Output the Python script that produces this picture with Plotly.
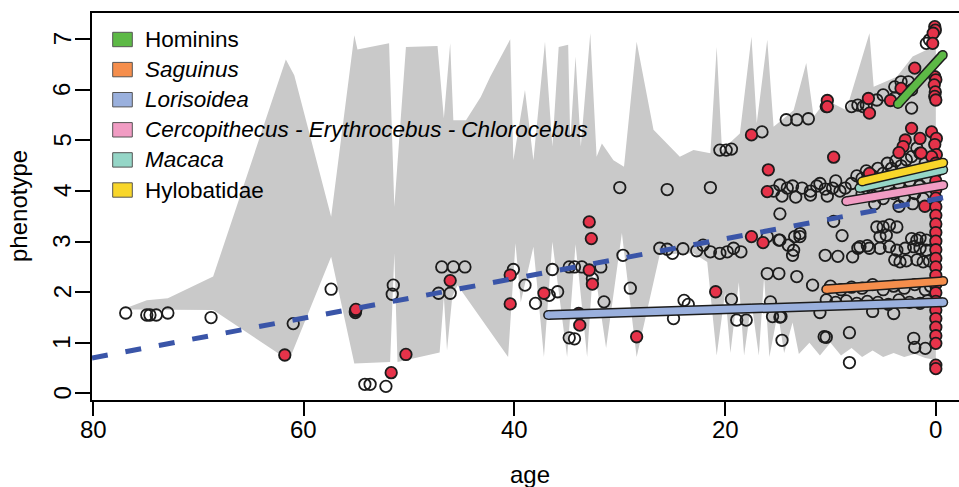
import plotly.graph_objects as go

# ---------------- data ----------------
# grey band (upper envelope, left -> right)
band_upper_age = [76.6, 74.9, 72.9, 68.6, 61.7, 60.9, 57.4, 55.2, 54.9, 51.9, 51.4, 50.3, 47.3, 46.7, 46.1,
                  45.8, 44.6, 43.2, 42.3, 41.3, 40.4, 40.1, 39.0, 38.2, 37.1, 36.4, 35.8, 34.9, 34.7, 34.2,
                  33.7, 32.8, 32.2, 31.7, 30.6, 29.6, 28.4, 26.8, 25.2, 24.3, 23.0, 21.4, 20.8, 20.3, 18.6,
                  17.5, 17.0, 16.0, 15.4, 13.5, 12.3, 11.6, 10.4, 8.5, 6.3, 5.9, 3.7, 2.2, 0.9, 0.0]
band_upper_val = [1.71, 1.84, 1.88, 2.31, 6.60, 6.29, 3.49, 7.08, 6.80, 6.92, 3.69, 6.85, 6.87, 5.44, 6.92,
                  5.40, 5.40, 5.86, 6.26, 6.66, 7.00, 4.61, 6.00, 4.61, 6.95, 4.88, 6.85, 6.89, 5.00, 6.66,
                  4.88, 7.12, 4.68, 4.94, 4.61, 4.48, 6.95, 5.21, 4.88, 4.68, 4.81, 4.75, 6.85, 4.81, 5.14,
                  7.05, 5.34, 6.99, 5.27, 5.60, 6.53, 5.47, 5.80, 5.60, 7.12, 6.06, 6.26, 6.66, 6.79, 6.85]
# grey band (lower envelope, left -> right)
band_lower_age = [76.6, 68.6, 61.4, 57.4, 55.2, 51.8, 51.4, 51.1, 50.3, 47.1, 46.7, 46.4, 45.9, 45.4, 40.6,
                  39.9, 39.4, 38.2, 37.2, 36.4, 35.0, 34.2, 33.1, 32.5, 31.3, 29.8, 28.4, 26.2, 23.0, 21.7,
                  20.8, 20.0, 19.5, 18.7, 18.2, 17.5, 16.8, 16.3, 15.8, 15.0, 14.4, 13.6, 13.0, 12.0, 11.0,
                  10.0, 9.0, 8.0, 7.0, 6.0, 5.0, 4.0, 3.0, 2.0, 1.0, 0.0]
band_lower_val = [1.66, 1.65, 0.65, 2.70, 0.59, 0.62, 2.77, 0.62, 0.66, 0.81, 1.91, 0.85, 1.91, 2.14, 0.72,
                  2.97, 1.80, 2.90, 0.72, 3.00, 0.72, 2.95, 0.72, 2.60, 0.90, 3.17, 0.72, 2.75, 2.77, 2.60,
                  0.75, 2.00, 0.80, 2.20, 0.75, 1.80, 0.75, 2.30, 0.72, 1.60, 0.80, 1.40, 0.78, 1.00, 0.75,
                  1.00, 0.75, 0.90, 0.72, 0.85, 0.72, 0.80, 0.72, 0.78, 0.70, 0.66]

# open (hollow) points
open_age = [76.9, 74.9, 74.6, 74.0, 72.9, 68.8, 61.0, 57.4, 51.5, 51.6, 54.2, 53.7, 52.2, 46.9, 45.8, 44.7,
            47.2, 46.1, 55.1,
            40.1, 39.0, 38.0, 36.4, 35.9, 36.7, 34.8, 34.3, 33.6, 31.8, 29.7, 32.6, 31.5, 29.0, 34.8, 34.3, 30.0,
            26.2, 25.5, 25.0, 24.0, 22.7, 22.1, 21.4, 20.5, 19.8, 19.2, 18.5,
            23.9, 23.5, 24.9, 19.4, 18.9, 18.0, 15.7, 15.5, 14.7, 14.6, 16.0, 14.9, 13.2, 11.7, 10.5, 9.3,
            10.6, 8.2, 8.2,
            25.5, 21.4, 20.5, 19.9, 19.4, 16.5, 14.2, 13.2, 12.1, 14.8, 14.8, 13.4, 12.9, 13.5, 16.0, 14.9,
            14.0, 12.9, 13.6, 9.7, 8.9,
            15.4, 14.8, 14.1, 13.6, 12.7, 11.9, 11.3, 10.5, 9.8, 9.1, 8.6, 14.6, 13.3, 11.9, 10.3,
            8.0, 7.5, 7.0, 6.6, 6.0, 5.5, 5.0, 4.6, 4.2, 3.8, 3.3, 2.8, 2.3, 1.8, 1.5, 1.0, 0.6, 11.0, 9.5,
            6.5, 5.5, 4.5, 3.5, 2.5, 1.5, 0.8, 7.0, 6.0, 5.0, 4.0, 3.0, 2.0, 1.2, 3.5, 2.2, 5.8,
            8.0, 7.4, 6.9, 6.6, 5.6, 5.0, 3.9, 3.3, 2.6, 2.3, 2.9, 2.3, 3.9, 0.9, 0.6, 10.4,
            7.4, 6.3, 5.3, 4.4, 3.7, 2.9, 2.1, 1.5, 0.9, 7.9, 5.6, 5.0, 4.4, 3.7, 4.7, 5.3, 2.3, 1.8, 1.5, 0.9,
            3.9, 3.4, 2.8, 1.8, 1.2, 0.6, 7.2, 6.5,
            10.0, 9.0, 8.0, 7.0, 6.0, 5.0, 4.0, 3.0, 2.0, 1.0, 0.5,
            10.4, 9.5, 8.5, 7.5, 6.5, 5.5, 4.5, 3.5, 2.5, 1.5, 0.8, 10.4, 2.1, 2.0, 1.0, 11.0, 6.0, 4.0, 14.8]
open_val = [1.59, 1.55, 1.55, 1.55, 1.59, 1.50, 1.38, 2.06, 2.14, 1.96, 0.18, 0.18, 0.14, 2.50, 2.50, 2.50,
            1.98, 1.98, 1.60,
            2.45, 2.14, 1.78, 2.45, 2.01, 1.94, 2.50, 2.50, 2.50, 2.50, 2.73, 2.27, 1.81, 2.08, 1.10, 1.08, 4.07,
            2.87, 2.85, 2.77, 2.86, 2.82, 2.93, 2.80, 2.77, 2.80, 2.87, 2.80,
            1.84, 1.76, 1.48, 1.86, 1.45, 1.45, 1.81, 1.52, 1.52, 1.05, 2.37, 2.37, 2.31, 2.14, 2.73, 2.71,
            1.12, 1.20, 0.61,
            4.03, 4.07, 4.81, 4.81, 4.83, 5.17, 5.41, 5.41, 5.43, 3.55, 3.03, 3.10, 3.16, 2.83, 3.10, 3.03,
            2.93, 3.10, 2.73, 3.40, 3.12,
            4.00, 4.12, 4.06, 4.10, 4.06, 4.00, 4.10, 4.04, 4.06, 4.00, 4.06, 3.90, 3.88, 3.92, 3.90,
            4.15, 4.30, 4.25, 4.40, 4.30, 4.45, 4.35, 4.55, 4.45, 4.60, 4.50, 4.62, 4.68, 4.85, 4.75, 4.55, 4.40,
            4.15, 4.20,
            4.05, 4.10, 4.05, 4.15, 4.20, 4.10, 4.25, 3.95, 3.90, 3.85, 3.95, 3.85, 3.95, 3.85, 3.70, 3.75, 3.75,
            5.67, 5.70, 5.67, 5.70, 5.80, 5.90, 6.06, 6.16, 6.16, 6.00, 5.96, 5.64, 5.84, 6.92, 6.99, 5.67,
            2.87, 2.87, 2.87, 2.90, 2.83, 2.87, 2.90, 2.87, 2.83, 2.70, 3.29, 3.29, 3.33, 3.29, 3.13, 3.10, 3.06,
            3.03, 3.07, 3.03,
            2.64, 2.60, 2.62, 2.64, 2.60, 2.62, 2.90, 2.92,
            2.12, 2.05, 2.10, 2.08, 2.15, 2.05, 2.12, 2.08, 2.15, 2.05, 2.12,
            1.85, 1.80, 1.83, 1.78, 1.82, 1.80, 1.76, 1.85, 1.80, 1.78, 1.83, 1.11, 1.09, 0.91, 0.89, 1.60, 1.62,
            1.58, 1.51]

# red (filled) points
red_age = [61.8, 55.1, 55.05, 51.7, 50.3, 46.1, 40.4, 40.4, 37.2, 32.9, 32.7, 32.9, 32.6, 33.9, 33.8, 28.4,
           20.9, 17.5, 15.9, 16.0, 17.5, 16.4, 9.7, 10.3, 10.3, 6.4, 6.3, 4.3, 3.3, 2.0, 1.04, 6.3,
           0.1, 0.05, 0.25, 0.3, 0.1, 0.0, 0.15, 0.05, 0.1, 0.0,
           2.3, 2.9, 3.1, 1.5, 0.4, -0.05, 0.1, -0.05, 0.4, 3.5, 1.4,
           0.0, 0.0, 0.0, 0.0, 0.0, 0.0, 0.0, 0.0, 0.0, 0.0, 0.0, 0.0, 0.0, 0.0, 0.0, 0.0, 0.0, 0.0, 0.0,
           0.0, 0.0, 0.0, 0.0, 0.0]
red_val = [0.76, 1.63, 1.66, 0.41, 0.77, 2.23, 2.34, 1.77, 1.98, 3.39, 3.06, 2.44, 2.16, 1.58, 1.35, 1.12,
           2.01, 5.11, 4.42, 3.99, 3.10, 2.98, 4.67, 5.79, 5.67, 5.83, 5.54, 5.79, 6.03, 6.43, 3.70, 4.35,
           7.25, 7.18, 7.12, 6.92, 6.26, 6.20, 6.10, 5.96, 5.87, 5.80,
           5.24, 5.01, 4.88, 5.04, 5.17, 5.04, 4.92, 4.72, 4.68, 4.76, 4.75,
           4.55, 4.38, 4.20, 4.03, 3.86, 3.69, 3.52, 3.35, 3.18, 3.01, 2.84, 2.67, 2.50, 2.33, 2.16, 1.99,
           1.82, 1.65, 1.48, 1.31, 1.14, 0.99, 0.56, 0.49]

# overall trend (dashed)
trend_age = [80.1, -1.0]
trend_val = [0.70, 3.88]

# clade regression lines
clades = ["Hominins", "Saguinus", "Lorisoidea",
          "Cercopithecus - Erythrocebus - Chlorocebus", "Macaca", "Hylobatidae"]
clade_italic = [False, True, True, True, True, False]
clade_colors = ["#5DB946", "#F58E4C", "#9AB0DD", "#F19CC3", "#95D6C7", "#F8D62A"]
clade_age = [[3.6, -0.66], [10.4, -0.7], [36.8, -0.7], [8.5, -0.7], [7.25, -0.7], [7.0, -0.7]]
clade_val = [[5.72, 6.69], [2.06, 2.22], [1.55, 1.80], [3.80, 4.12], [4.06, 4.42], [4.19, 4.56]]

x_ticks = [80, 60, 40, 20, 0]
y_ticks = [0, 1, 2, 3, 4, 5, 6, 7]

# ---------------- figure ----------------
W, H = 959, 487
ML, MR, MT, MB = 92, 0, 13, 87
PW, PH = W - ML - MR, H - MT - MB
FONT = "Liberation Sans, Arial, Helvetica, sans-serif"


def px2paper(px, py):
    return (px - ML) / PW, (H - MB - py) / PH


fig = go.Figure()

band_x = band_upper_age + band_lower_age[::-1]
band_y = band_upper_val + band_lower_val[::-1]
fig.add_trace(go.Scatter(x=band_x, y=band_y, fill="toself", mode="lines",
                         fillcolor="#C9C9C9", line=dict(width=0, color="#C9C9C9"),
                         hoverinfo="skip", showlegend=False))

fig.add_trace(go.Scatter(x=open_age, y=open_val, mode="markers", showlegend=False,
                         marker=dict(symbol="circle", size=11.5, color="rgba(0,0,0,0)",
                                     line=dict(color="#1c1c1c", width=1.8))))
fig.add_trace(go.Scatter(x=red_age, y=red_val, mode="markers", showlegend=False,
                         marker=dict(symbol="circle", size=11.5, color="#E6334A",
                                     line=dict(color="#1c1c1c", width=1.8))))

fig.add_trace(go.Scatter(x=trend_age, y=trend_val, mode="lines", showlegend=False,
                         line=dict(color="#3A55A8", width=5, dash="16px,18px")))

for name, col, ca, cv in zip(clades, clade_colors, clade_age, clade_val):
    fig.add_trace(go.Scatter(x=ca, y=cv, mode="lines+markers", showlegend=False,
                             line=dict(color="#1c1c1c", width=10),
                             marker=dict(size=10, color="#1c1c1c", line=dict(width=0))))
    fig.add_trace(go.Scatter(x=ca, y=cv, mode="lines+markers", showlegend=False,
                             line=dict(color=col, width=7),
                             marker=dict(size=7, color=col, line=dict(width=0))))

# legend (drawn manually to match base-R style)
row0, step = 39.5, 30.1
for i, (name, col, it) in enumerate(zip(clades, clade_colors, clade_italic)):
    cy = row0 + step * i
    x0, y0 = px2paper(112.7, cy + 7.2)
    x1, y1 = px2paper(132.3, cy - 7.2)
    fig.add_shape(type="rect", xref="paper", yref="paper", x0=x0, x1=x1, y0=y0, y1=y1,
                  fillcolor=col, line=dict(color="#555555", width=1))
    tx, ty = px2paper(142.5, cy)
    fig.add_annotation(xref="paper", yref="paper", x=tx, y=ty, xanchor="left", yanchor="middle",
                       text=(f"<i>{name}</i>" if it else name), showarrow=False,
                       font=dict(size=22.5, color="black", family=FONT))

# tick labels (placed like base-R axis labels)
_, xlab_y = px2paper(0, 430)
for v in x_ticks:
    fig.add_annotation(xref="x", yref="paper", x=v, y=xlab_y, text=str(v), showarrow=False,
                       xanchor="center", yanchor="middle",
                       font=dict(size=24, color="black", family=FONT))
ylab_x, _ = px2paper(62, 0)
for v in y_ticks:
    fig.add_annotation(xref="paper", yref="y", x=ylab_x, y=v, text=str(v), showarrow=False,
                       textangle=-90, xanchor="center", yanchor="middle",
                       font=dict(size=24, color="black", family=FONT))

# axis titles
ax, ay = px2paper(530, 474)
fig.add_annotation(xref="paper", yref="paper", x=ax, y=ay, text="age", showarrow=False,
                   xanchor="center", yanchor="middle", font=dict(size=24, color="black", family=FONT))
px_, py_ = px2paper(19, 206)
fig.add_annotation(xref="paper", yref="paper", x=px_, y=py_, text="phenotype", showarrow=False,
                   textangle=-90, xanchor="center", yanchor="middle",
                   font=dict(size=24, color="black", family=FONT))

fig.update_layout(
    width=W, height=H, margin=dict(l=ML, r=MR, t=MT, b=MB),
    paper_bgcolor="white", plot_bgcolor="white", showlegend=False,
    font=dict(family=FONT, size=24, color="black"),
    xaxis=dict(range=[80.1, -2.2], tickvals=x_ticks, showticklabels=False,
               ticks="outside", ticklen=14, tickwidth=2, tickcolor="black",
               showline=True, linewidth=2, linecolor="black", mirror=True,
               showgrid=False, zeroline=False),
    yaxis=dict(range=[-0.13, 7.52], tickvals=y_ticks, showticklabels=False,
               ticks="outside", ticklen=15, tickwidth=2, tickcolor="black",
               showline=True, linewidth=2, linecolor="black", mirror=False,
               showgrid=False, zeroline=False),
)

fig.write_html("out.html")
